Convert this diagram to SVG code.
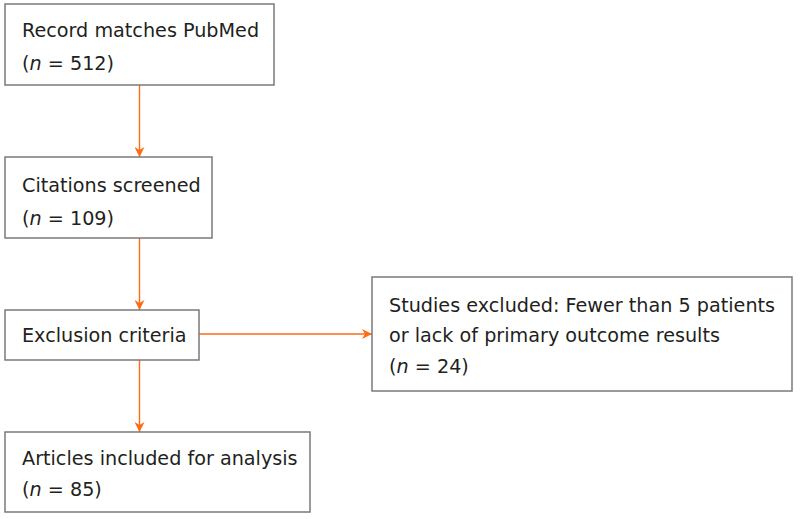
<svg xmlns="http://www.w3.org/2000/svg" width="800" height="519" viewBox="0 0 800 519">
<defs>
<marker id="ah" viewBox="0 0 10 10" refX="10" refY="5" markerWidth="10" markerHeight="10" markerUnits="userSpaceOnUse" orient="auto">
<path d="M0,0 L10,5 L0,10 L3,5 Z" fill="#FF6A13"/>
</marker>
<style>
.box{fill:#fff;stroke:#7a7a7a;stroke-width:1.5}
.t{font-family:"DejaVu Sans",Verdana,sans-serif;font-size:19.2px;fill:#231f20}
.c{stroke:#FF6A13;stroke-width:1.4;fill:none;marker-end:url(#ah)}
</style>
</defs>
<rect width="800" height="519" fill="#fff"/>
<g id="connectors">
<line class="c" x1="139.5" y1="85" x2="139.5" y2="157"/>
<line class="c" x1="139.5" y1="238" x2="139.5" y2="310"/>
<line class="c" x1="139.5" y1="360" x2="139.5" y2="432"/>
<line class="c" x1="199" y1="334" x2="372" y2="334"/>
</g>
<g id="n1">
<rect class="box" x="5" y="4" width="269" height="81"/>
<text class="t" x="22" y="37">Record matches PubMed</text>
<text class="t" x="22" y="70">(<tspan font-style="italic">n</tspan> = 512)</text>
</g>
<g id="n2">
<rect class="box" x="5" y="157" width="207" height="81"/>
<text class="t" x="22" y="192">Citations screened</text>
<text class="t" x="22" y="225">(<tspan font-style="italic">n</tspan> = 109)</text>
</g>
<g id="n3">
<rect class="box" x="5" y="310" width="194" height="50"/>
<text class="t" x="22" y="342">Exclusion criteria</text>
</g>
<g id="n4">
<rect class="box" x="372" y="277" width="420" height="114"/>
<text class="t" x="389" y="312">Studies excluded: Fewer than 5 patients</text>
<text class="t" x="389" y="342">or lack of primary outcome results</text>
<text class="t" x="389" y="373">(<tspan font-style="italic">n</tspan> = 24)</text>
</g>
<g id="n5">
<rect class="box" x="5" y="432" width="305" height="80"/>
<text class="t" x="22" y="465">Articles included for analysis</text>
<text class="t" x="22" y="496">(<tspan font-style="italic">n</tspan> = 85)</text>
</g>
</svg>
